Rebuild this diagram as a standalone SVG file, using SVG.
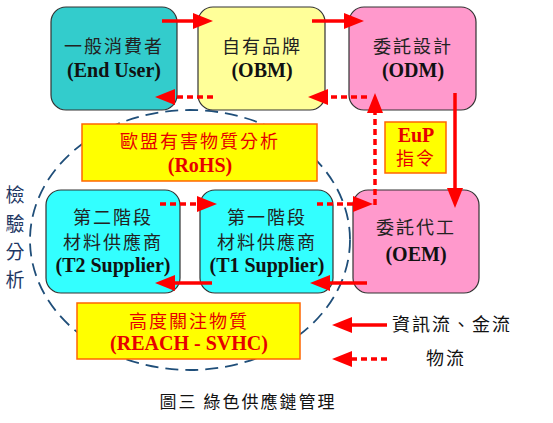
<svg xmlns="http://www.w3.org/2000/svg" width="553" height="423" viewBox="0 0 553 423">
<style>
.node{stroke:#333;stroke-width:1.2}
.note{fill:#FFFF00;stroke:#FF6600;stroke-width:1.5}
.cjk{font-family:"Noto Sans CJK TC","Noto Sans CJK SC",sans-serif;font-size:18px;letter-spacing:2px;text-anchor:middle;fill:#222}
.lat{font-family:"Liberation Serif","DejaVu Serif",serif;font-size:20px;font-weight:bold;text-anchor:middle;fill:#111}
.red{fill:#E60000}
.solid{stroke:#FF0000;stroke-width:3.5;fill:none}
.dash{stroke:#FF0000;stroke-width:3.5;fill:none;stroke-dasharray:6,4}
</style>
<defs>
<marker id="ah" markerWidth="20" markerHeight="16" refX="9" refY="8" orient="auto" markerUnits="userSpaceOnUse">
<path d="M0,0 L20,8 L0,16 Z" fill="#FF0000"/>
</marker>
</defs>
<rect width="553" height="423" fill="#fff"/>
<ellipse id="inspect-area" cx="190" cy="240" rx="160" ry="130" fill="none" stroke="#1F4E79" stroke-width="1.8" stroke-dasharray="13,7"/>
<g id="enduser"><rect class="node" x="51" y="7" width="126" height="103" rx="15" fill="#33CCCC"/><text class="cjk" x="114" y="53">一般消費者</text><text class="lat" x="114" y="77">(End User)</text></g>
<g id="obm"><rect class="node" x="198" y="7" width="127" height="103" rx="15" fill="#FFFF99"/><text class="cjk" x="262" y="53">自有品牌</text><text class="lat" x="262" y="77">(OBM)</text></g>
<g id="odm"><rect class="node" x="349" y="7" width="127" height="103" rx="15" fill="#FF99CC"/><text class="cjk" x="413" y="53">委託設計</text><text class="lat" x="413" y="77">(ODM)</text></g>
<g id="oem"><rect class="node" x="353" y="190" width="126" height="103" rx="15" fill="#FF99CC"/><text class="cjk" x="416" y="234">委託代工</text><text class="lat" x="416" y="261">(OEM)</text></g>
<g id="t2"><rect class="node" x="46" y="190" width="134" height="103" rx="15" fill="#33FFFF"/><text class="cjk" x="113" y="224">第二階段</text><text class="cjk" x="113" y="249">材料供應商</text><text class="lat" x="113" y="272">(T2 Supplier)</text></g>
<g id="t1"><rect class="node" x="200" y="190" width="133" height="103" rx="15" fill="#33FFFF"/><text class="cjk" x="267" y="224">第一階段</text><text class="cjk" x="267" y="249">材料供應商</text><text class="lat" x="267" y="272">(T1 Supplier)</text></g>
<g id="rohs"><rect class="note" x="82" y="124" width="235" height="57"/><text class="cjk red" x="200" y="148">歐盟有害物質分析</text><text class="lat red" x="200" y="172">(RoHS)</text></g>
<g id="eup"><rect class="note" x="385" y="122" width="61" height="51"/><text class="lat red" x="416" y="142">EuP</text><text class="cjk red" x="416" y="165">指令</text></g>
<g id="reach"><rect class="note" x="77" y="303" width="223" height="56"/><text class="cjk red" x="189" y="328">高度關注物質</text><text class="lat red" x="189" y="350">(REACH - SVHC)</text></g>
<g id="side-label" style="font-family:'Noto Sans CJK TC',sans-serif;font-size:19px;fill:#1F3864;text-anchor:middle">
<text x="15" y="202">檢</text><text x="15" y="231">驗</text><text x="15" y="259">分</text><text x="15" y="287">析</text>
</g>
<g id="connectors">
<line class="solid" x1="162" y1="21" x2="202" y2="21" marker-end="url(#ah)"/>
<line class="solid" x1="312" y1="21" x2="353" y2="21" marker-end="url(#ah)"/>
<line class="dash" x1="213" y1="97" x2="166" y2="97" marker-end="url(#ah)"/>
<line class="dash" x1="367" y1="97" x2="319" y2="97" marker-end="url(#ah)"/>
<line class="solid" x1="455" y1="93" x2="455" y2="197" marker-end="url(#ah)"/>
<line class="dash" x1="317" y1="204" x2="362" y2="204" marker-end="url(#ah)"/>
<line class="dash" x1="375" y1="205" x2="375" y2="104" marker-end="url(#ah)"/>
<line class="dash" x1="160" y1="204" x2="206" y2="204" marker-end="url(#ah)"/>
<line class="solid" x1="212" y1="283" x2="166" y2="283" marker-end="url(#ah)"/>
<line class="solid" x1="367" y1="283" x2="321" y2="283" marker-end="url(#ah)"/>
</g>
<g id="legend">
<line class="solid" x1="387" y1="325" x2="343" y2="325" marker-end="url(#ah)"/>
<text class="cjk" x="452" y="331" style="fill:#111">資訊流、金流</text>
<line class="dash" x1="387" y1="359" x2="343" y2="359" marker-end="url(#ah)"/>
<text class="cjk" x="446" y="365" style="fill:#111">物流</text>
</g>
<text id="caption" class="cjk" x="248" y="408" style="font-size:17px;letter-spacing:2px;fill:#111">圖三 綠色供應鏈管理</text>
</svg>
